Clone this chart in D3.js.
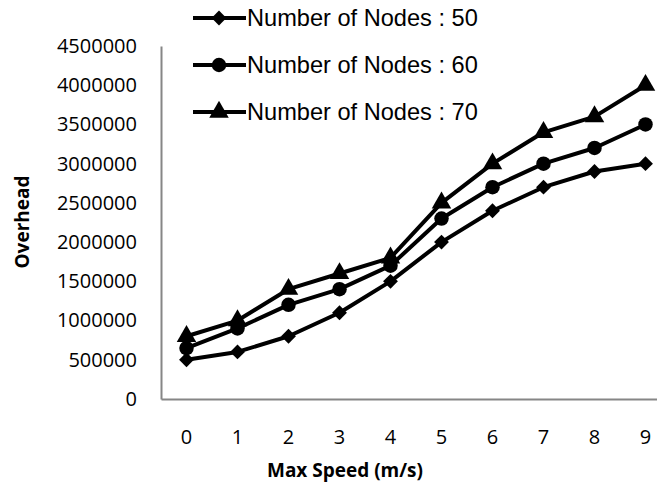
<!DOCTYPE html>
<html><head><meta charset="utf-8">
<script src="https://cdn.jsdelivr.net/npm/d3@7"></script>
<style>body{margin:0;background:#fff}svg{display:block}</style>
</head><body>
<script>
const categories = ["0","1","2","3","4","5","6","7","8","9"];
const yTicks = [0,500000,1000000,1500000,2000000,2500000,3000000,3500000,4000000,4500000];
const seriesNames = ["Number of Nodes : 50","Number of Nodes : 60","Number of Nodes : 70"];
const nodes50 = [500000,600000,800000,1100000,1500000,2000000,2400000,2700000,2900000,3000000];
const nodes60 = [650000,900000,1200000,1400000,1700000,2300000,2700000,3000000,3200000,3500000];
const nodes70 = [800000,1000000,1400000,1600000,1800000,2500000,3000000,3400000,3600000,4000000];
const seriesValues = [nodes50, nodes60, nodes70];

const W = 657, H = 486;
const svg = d3.select("body").append("svg").attr("width", W).attr("height", H);

const x = d3.scaleBand().domain(categories).range([161, 671]);
const y = d3.scaleLinear().domain([0, 4500000]).range([399, 46]);

// marker shapes (rotated square = diamond)
const markerDefs = [
  {type: d3.symbolSquare, size: 110, rot: 45},
  {type: d3.symbolCircle, size: 165, rot: 0},
  {type: d3.symbolTriangle, size: 165, rot: 0}
];

// axes
const yAxis = svg.append("g").attr("transform", "translate(161,0)")
  .call(d3.axisLeft(y).tickValues(yTicks).tickSize(0).tickPadding(24).tickFormat(d3.format("d")));
yAxis.select(".domain").attr("stroke", "#868686").attr("stroke-width", 2);
yAxis.selectAll("text").attr("font-family", "Open Sans, sans-serif").attr("font-size", 20).attr("fill", "#000");

const xAxis = svg.append("g").attr("transform", "translate(0,399)")
  .call(d3.axisBottom(x).tickSize(0).tickPadding(31));
xAxis.select(".domain").attr("stroke", "#868686").attr("stroke-width", 2);
xAxis.selectAll("text").attr("font-family", "Open Sans, sans-serif").attr("font-size", 20).attr("fill", "#000");

// axis titles
svg.append("text").attr("x", 345).attr("y", 477).attr("text-anchor", "middle")
  .attr("font-family", "Open Sans, sans-serif").attr("font-weight", "bold").attr("font-size", 19)
  .text("Max Speed (m/s)");
svg.append("text").attr("transform", "translate(29,222) rotate(-90)").attr("text-anchor", "middle")
  .attr("font-family", "Open Sans, sans-serif").attr("font-weight", "bold").attr("font-size", 19)
  .text("Overhead");

const cx = c => x(c) + x.bandwidth() / 2;
const line = d3.line().x((d, i) => cx(categories[i])).y(d => y(d));

seriesValues.forEach((vals, s) => {
  const m = markerDefs[s];
  const g = svg.append("g");
  g.append("path").datum(vals).attr("d", line).attr("fill", "none")
    .attr("stroke", "#000").attr("stroke-width", 4).attr("stroke-linejoin", "round");
  g.selectAll("path.m").data(vals).enter().append("path").attr("class", "m")
    .attr("d", d3.symbol().type(m.type).size(m.size))
    .attr("transform", (d, i) => `translate(${cx(categories[i])},${y(d)}) rotate(${m.rot})`)
    .attr("fill", "#000");
});

// legend
const legY = [18, 65, 112];
seriesNames.forEach((name, s) => {
  const m = markerDefs[s];
  const g = svg.append("g").attr("transform", `translate(0,${legY[s]})`);
  g.append("line").attr("x1", 193).attr("x2", 246).attr("y1", 0).attr("y2", 0)
    .attr("stroke", "#000").attr("stroke-width", 4);
  g.append("path").attr("d", d3.symbol().type(m.type).size(m.size))
    .attr("transform", `translate(219,0) rotate(${m.rot})`).attr("fill", "#000");
  g.append("text").attr("x", 247).attr("y", 0).attr("dy", "0.35em")
    .attr("font-family", "Liberation Sans, Arial, sans-serif").attr("font-size", 23.6)
    .text(name);
});
</script>
</body></html>
